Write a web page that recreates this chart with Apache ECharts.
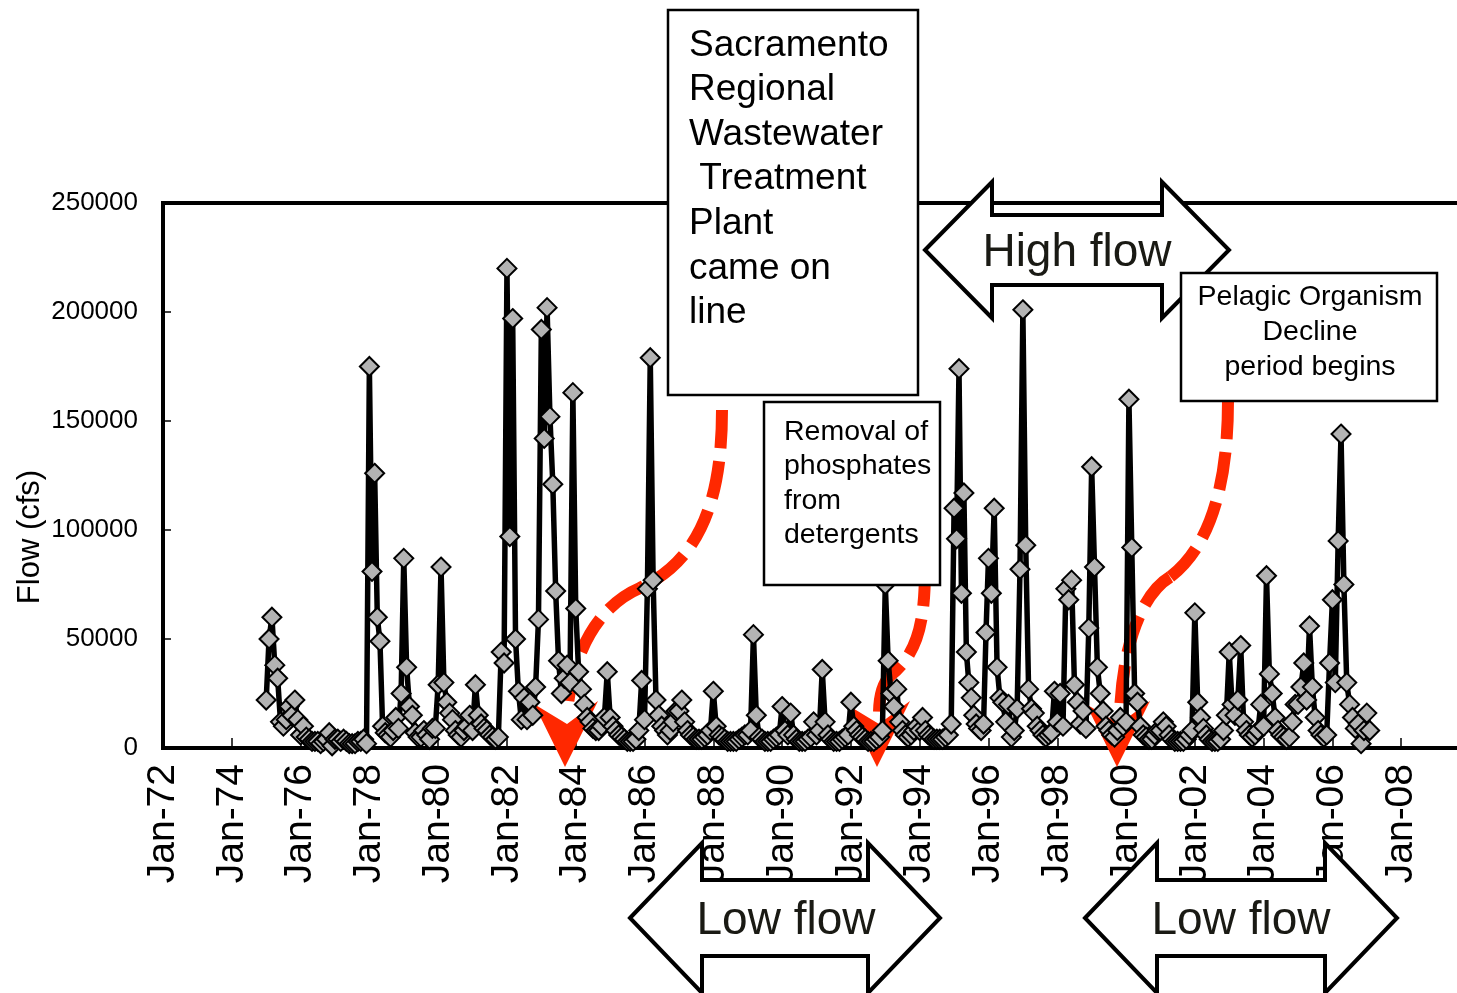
<!DOCTYPE html>
<html>
<head>
<meta charset="utf-8">
<script src="https://cdn.jsdelivr.net/npm/echarts@6/dist/echarts.min.js"></script>
<style>
  html, body { margin: 0; padding: 0; background: #fff; }
  #main { width: 1457px; height: 993px; }
</style>
</head>
<body>
<div id="main"></div>
<script>
// flow (cfs), one array per year (monthly, a few years have extra storm samples)
const flow1975 = [22000, 50000, 60000, 38000, 32000, 12000, 10000, 13000, 19000, 15000, 22000, 13000];
const flow1976 = [6000, 10000, 5000, 4000, 3000, 3000, 3000, 2000, 3000, 4000, 7000, 1000];
const flow1977 = [4000, 4000, 3000, 4000, 3000, 2000, 2000, 2000, 3000, 3000, 4000, 2000];
const flow1978 = [175000, 81000, 126000, 60000, 49000, 10000, 7000, 6000, 5000, 8000, 14000, 9000, 25000];
const flow1979 = [87000, 37000, 19000, 15000, 7000, 5000, 5000, 8000, 6000, 4000, 9000, 9000];
const flow1980 = [29000, 83000, 30000, 21000, 16000, 13000, 8000, 6000, 5000, 8000, 10000, 15000];
const flow1981 = [8000, 29000, 15000, 11000, 9000, 8000, 6000, 5000, 4000, 5000, 44000, 39000];
const flow1982 = [220000, 97000, 197000, 50000, 26000, 13000, 23000, 13000, 21000, 15000, 28000, 59000];
const flow1983 = [192000, 142000, 202000, 152000, 121000, 72000, 40000, 25000, 32000, 38000, 30000, 163000];
const flow1984 = [64000, 35000, 27000, 20000, 14000, 12000, 9000, 8000, 8000, 10000, 14000, 35000];
const flow1985 = [14000, 10000, 8000, 6000, 5000, 4000, 3000, 3000, 3000, 4000, 8000, 31000];
const flow1986 = [13000, 73000, 179000, 77000, 22000, 15000, 10000, 8000, 6000, 8000, 12000, 17000];
const flow1987 = [17000, 22000, 12000, 8000, 6000, 5000, 4000, 4000, 4000, 5000, 6000, 8000];
const flow1988 = [26000, 10000, 6000, 5000, 4000, 3000, 3000, 3000, 3000, 4000, 5000, 6000];
const flow1989 = [6000, 8000, 52000, 15000, 5000, 4000, 3000, 3000, 3000, 4000, 5000, 6000];
const flow1990 = [19000, 8000, 6000, 16000, 6000, 4000, 3000, 3000, 3000, 4000, 5000, 12000];
const flow1991 = [6000, 8000, 36000, 12000, 6000, 4000, 3000, 3000, 3000, 4000, 5000, 6000];
const flow1992 = [21000, 10000, 8000, 6000, 5000, 4000, 3000, 3000, 3000, 4000, 5000, 8000];
const flow1993 = [75000, 40000, 25000, 19000, 27000, 12000, 8000, 6000, 5000, 6000, 8000, 10000];
const flow1994 = [8000, 14000, 8000, 6000, 5000, 4000, 4000, 4000, 4000, 5000, 6000, 11000];
const flow1995 = [110000, 96000, 174000, 71000, 117000, 44000, 30000, 23000, 15000, 11000, 9000, 8000, 11000, 53000];
const flow1996 = [87000, 71000, 110000, 37000, 23000, 21000, 12000, 20000, 5000, 8000, 18000, 82000];
const flow1997 = [201000, 93000, 27000, 18000, 16000, 10000, 8000, 6000, 5000, 6000, 7000, 26000];
const flow1998 = [12000, 25000, 10000, 73000, 68000, 77000, 29000, 21000, 11000, 17000, 9000, 55000];
const flow1999 = [129000, 83000, 37000, 25000, 17000, 10000, 8000, 6000, 5000, 8000, 14000, 10000];
const flow2000 = [12000, 160000, 92000, 25000, 21000, 10000, 6000, 5000, 4000, 4000, 6000, 8000];
const flow2001 = [8000, 12000, 10000, 6000, 4000, 3000, 3000, 3000, 3000, 4000, 6000, 8000];
const flow2002 = [62000, 21000, 14000, 9000, 6000, 4000, 3000, 3000, 3000, 4000, 8000, 15000];
const flow2003 = [44000, 20000, 15000, 22000, 47000, 12000, 8000, 6000, 5000, 6000, 8000, 20000];
const flow2004 = [10000, 79000, 34000, 25000, 14000, 8000, 6000, 5000, 4000, 5000, 12000, 20000];
const flow2005 = [20000, 28000, 39000, 22000, 56000, 28000, 14000, 8000, 6000, 5000, 6000, 39000];
const flow2006 = [68000, 30000, 95000, 144000, 75000, 30000, 20000, 14000, 9000, 11000, 2000, 8000];
const flow2007 = [16000, 8000];

const years = [1975, 1976, 1977, 1978, 1979, 1980, 1981, 1982, 1983, 1984, 1985, 1986, 1987, 1988,
  1989, 1990, 1991, 1992, 1993, 1994, 1995, 1996, 1997, 1998, 1999, 2000, 2001, 2002, 2003, 2004,
  2005, 2006, 2007];
const yearFlows = [flow1975, flow1976, flow1977, flow1978, flow1979, flow1980, flow1981, flow1982,
  flow1983, flow1984, flow1985, flow1986, flow1987, flow1988, flow1989, flow1990, flow1991, flow1992,
  flow1993, flow1994, flow1995, flow1996, flow1997, flow1998, flow1999, flow2000, flow2001, flow2002,
  flow2003, flow2004, flow2005, flow2006, flow2007];

// x axis: years, ticks every 2 years labelled Jan-yy (the frame runs on past the right edge)
const xMin = 1972, xMax = 2010, xStep = 2;
const yMax = 250000, yStep = 50000;

const points = [];
years.forEach(function (yr, k) {
  const vals = yearFlows[k];
  const step = 1 / Math.max(12, vals.length);
  vals.forEach(function (v, i) { points.push([yr + i * step, v]); });
});

const FONT = '"Liberation Sans", Arial, sans-serif';
const RED = '#ff2800';

function dash(x1, y1, cx1, cy1, cx2, cy2, x2, y2) {
  return {
    type: 'bezierCurve', z: 1, silent: true,
    shape: { x1: x1, y1: y1, cpx1: cx1, cpy1: cy1, cpx2: cx2, cpy2: cy2, x2: x2, y2: y2 },
    style: { stroke: RED, lineWidth: 12, lineDash: [38, 13], fill: null, lineCap: 'butt' }
  };
}
function head(tx, ty) {
  return {
    type: 'polygon', z: 1, silent: true,
    shape: { points: [[tx, ty], [tx + 33, ty - 66], [tx + 2, ty - 43], [tx - 31, ty - 63]] },
    style: { fill: RED }
  };
}
function dblArrow(L, R, cy, hw, hh, sh) {
  return {
    type: 'polygon', z: 10, silent: true,
    shape: { points: [[L, cy], [L + hw, cy - hh], [L + hw, cy - sh], [R - hw, cy - sh], [R - hw, cy - hh],
      [R, cy], [R - hw, cy + hh], [R - hw, cy + sh], [L + hw, cy + sh], [L + hw, cy + hh]] },
    style: { fill: '#fff', stroke: '#000', lineWidth: 4, lineJoin: 'miter' }
  };
}
function box(x, y, w, h) {
  return {
    type: 'rect', z: 10, silent: true,
    shape: { x: x, y: y, width: w, height: h },
    style: { fill: '#fff', stroke: '#000', lineWidth: 2.5 }
  };
}
function label(x, y, text, size, lh, align, valign, color) {
  return {
    type: 'text', z: 11, silent: true, x: x, y: y,
    style: {
      text: text, fontSize: size, fontFamily: FONT, lineHeight: lh, fill: color || '#000',
      align: align, textAlign: align, verticalAlign: valign, textVerticalAlign: valign
    }
  };
}

const chart = echarts.init(document.getElementById('main'));
chart.setOption({
  animation: false,
  backgroundColor: '#fff',
  textStyle: { fontFamily: FONT },
  grid: {
    left: 163, top: 203, right: -13, bottom: 245,
    show: true, borderColor: '#000', borderWidth: 4,
    containLabel: false, outerBoundsMode: 'none'
  },
  xAxis: {
    type: 'value', min: xMin, max: xMax, interval: xStep,
    axisLine: { lineStyle: { color: '#000', width: 4 } },
    axisTick: { inside: true, length: 10, lineStyle: { color: '#000', width: 1.5 } },
    splitLine: { show: false },
    axisLabel: {
      rotate: 90, margin: 16, fontSize: 39, color: '#000', fontFamily: FONT, showMaxLabel: false,
      formatter: function (v) { return v >= xMax ? '' : 'Jan-' + String(v % 100).padStart(2, '0'); }
    }
  },
  yAxis: {
    type: 'value', min: 0, max: yMax, interval: yStep,
    axisLine: { show: true, lineStyle: { color: '#000', width: 4 } },
    axisTick: { show: true, inside: true, length: 8, lineStyle: { color: '#000', width: 1.5 } },
    splitLine: { show: false },
    axisLabel: {
      margin: 25, fontSize: 26, color: '#000', fontFamily: FONT,
      formatter: function (v) { return String(v); }
    }
  },
  series: [{
    type: 'line',
    data: points,
    symbol: 'diamond',
    symbolSize: 19,
    showAllSymbol: true,
    lineStyle: { color: '#000', width: 5.5 },
    itemStyle: { color: '#b3b3b3', borderColor: '#000', borderWidth: 2 },
    z: 2
  }],
  graphic: [
    // red dashed arrows
    dash(722, 410, 722, 500, 700, 560, 640, 588),
    dash(640, 588, 600, 605, 572, 650, 567, 714),
    head(565, 767),
    dash(925, 568, 925, 630, 915, 655, 890, 676),
    dash(890, 676, 882, 684, 879, 700, 879, 714),
    head(877, 767),
    dash(1228, 401, 1228, 480, 1212, 545, 1170, 577),
    dash(1170, 577, 1140, 595, 1122, 650, 1120, 714),
    head(1117, 767),
    // text boxes
    box(668, 10, 250, 385),
    label(689, 23, 'Sacramento\nRegional\nWastewater\n Treatment\nPlant\ncame on\nline', 37, 44.6, 'left', 'top'),
    box(764, 402, 176, 183),
    label(784, 415, 'Removal of\nphosphates\nfrom\ndetergents', 28.5, 34.4, 'left', 'top'),
    dblArrow(925, 1229, 250, 67, 68, 35),
    label(1077, 253, 'High flow', 46, 50, 'center', 'middle', '#1a1a14'),
    box(1181, 273, 256, 128),
    label(1310, 280, 'Pelagic Organism\nDecline\nperiod begins', 28.5, 35, 'center', 'top'),
    dblArrow(630, 940, 918, 72, 75, 38),
    label(786, 921, 'Low flow', 46, 50, 'center', 'middle', '#1a1a14'),
    dblArrow(1085, 1397, 918, 72, 75, 38),
    label(1241, 921, 'Low flow', 46, 50, 'center', 'middle', '#1a1a14'),
    // y axis title
    {
      type: 'text', z: 11, silent: true, x: 30, y: 537, rotation: Math.PI / 2,
      style: { text: 'Flow (cfs)', fontSize: 31, fontFamily: FONT, fill: '#000',
        align: 'center', textAlign: 'center', verticalAlign: 'middle', textVerticalAlign: 'middle' }
    }
  ]
});
</script>
</body>
</html>
